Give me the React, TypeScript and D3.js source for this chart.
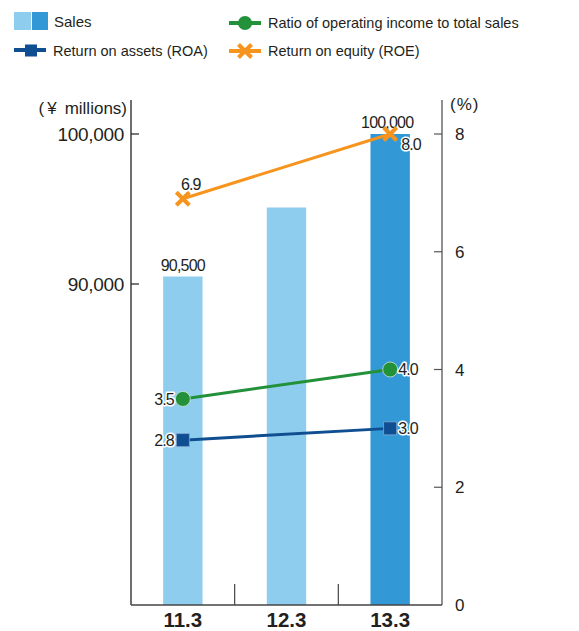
import React from "react";
import * as d3 from "d3";

const categories = ["11.3", "12.3", "13.3"];
const salesValues = [90500, 95100, 100000];
const salesLabels = ["90,500", "", "100,000"];
const roeValues: (number | null)[] = [6.9, null, 8.0];
const opRatioValues: (number | null)[] = [3.5, null, 4.0];
const roaValues: (number | null)[] = [2.8, null, 3.0];
const leftTicks = [90000, 100000];
const rightTicks = [0, 2, 4, 6, 8];

const FONT = "'Liberation Sans', Arial, Helvetica, sans-serif";
const LIGHT = "#8fcdef";
const DARK = "#3399d6";
const GREEN = "#23913a";
const NAVY = "#0f4f91";
const ORANGE = "#f7941d";
const TEXT = "#231f20";

export default function App() {
  const W = 579, H = 631;
  const left = 131, right = 442, top = 100, bottom = 605;
  const x = d3.scaleBand<string>().domain(categories).range([left, right]).padding(0);
  const yL = d3.scaleLinear().domain([90000, 100000]).range([284, 134]);
  const yR = d3.scaleLinear().domain([0, 8]).range([bottom, 134]);
  const bw = x.bandwidth() * 0.38;
  const cx = (c: string) => (x(c) as number) + x.bandwidth() / 2;

  const lineGen = d3
    .line<[number, number]>()
    .x((d) => d[0])
    .y((d) => d[1]);
  const pts = (vals: (number | null)[]) =>
    vals
      .map((v, i) => (v == null ? null : ([cx(categories[i]), yR(v)] as [number, number])))
      .filter((p): p is [number, number] => p != null);

  const halo = { paintOrder: "stroke" as const, stroke: "#fff", strokeWidth: 3, strokeLinejoin: "round" as const };

  const cross = (px: number, py: number, s: number, key?: string) => (
    <g key={key}>
      <line x1={px - s} y1={py - s} x2={px + s} y2={py + s} stroke={ORANGE} strokeWidth={4} />
      <line x1={px - s} y1={py + s} x2={px + s} y2={py - s} stroke={ORANGE} strokeWidth={4} />
    </g>
  );

  return (
    <svg width={W} height={H} style={{ display: "block", position: "absolute", left: 0, top: 0 }} fontFamily={FONT}>
      {/* Legend */}
      <rect x={14} y={12} width={17} height={18} fill={LIGHT} />
      <rect x={32} y={12} width={16} height={18} fill={DARK} />
      <text x={54} y={27} fontSize={15} fill={TEXT}>Sales</text>
      <line x1={14} x2={46} y1={50} y2={50} stroke={NAVY} strokeWidth={4} />
      <rect x={25} y={44.5} width={12} height={12} fill={NAVY} />
      <text x={53} y={56} fontSize={14.5} fill={TEXT}>Return on assets (ROA)</text>
      <line x1={229} x2={261} y1={23} y2={23} stroke={GREEN} strokeWidth={4} />
      <circle cx={245} cy={23} r={7} fill={GREEN} />
      <text x={268} y={28} fontSize={14.5} fill={TEXT}>Ratio of operating income to total sales</text>
      <line x1={229} x2={261} y1={51} y2={51} stroke={ORANGE} strokeWidth={4} />
      {cross(245, 51, 6.5)}
      <text x={268} y={56} fontSize={14.5} fill={TEXT}>Return on equity (ROE)</text>

      {/* Bars */}
      {categories.map((c, i) => (
        <rect
          key={c}
          x={cx(c) - bw / 2}
          y={yL(salesValues[i])}
          width={bw}
          height={bottom - yL(salesValues[i])}
          fill={i === categories.length - 1 ? DARK : LIGHT}
        />
      ))}

      {/* Axes */}
      <line x1={left} x2={left} y1={top} y2={bottom} stroke="#231f20" strokeWidth={1.3} />
      <line x1={right} x2={right} y1={top} y2={bottom} stroke="#555" strokeWidth={1.3} />
      <line x1={left} x2={right} y1={bottom} y2={bottom} stroke="#444" strokeWidth={1.3} />
      {leftTicks.map((t) => (
        <g key={t}>
          <line x1={left} x2={left + 8} y1={yL(t)} y2={yL(t)} stroke="#231f20" strokeWidth={1.2} />
          <text x={124} y={yL(t)} dy="0.36em" textAnchor="end" fontSize={19} fill={TEXT} letterSpacing={-0.3}>
            {d3.format(",")(t)}
          </text>
        </g>
      ))}
      {rightTicks.map((t) => (
        <g key={t}>
          {t > 0 && <line x1={right - 8} x2={right} y1={yR(t)} y2={yR(t)} stroke="#555" strokeWidth={1.2} />}
          <text x={455} y={yR(t)} dy="0.36em" fontSize={17} fill={TEXT}>
            {t}
          </text>
        </g>
      ))}
      {categories.slice(1).map((c) => (
        <line key={c} x1={x(c)} x2={x(c)} y1={bottom - 21} y2={bottom} stroke="#444" strokeWidth={1.2} />
      ))}
      {categories.map((c) => (
        <text key={c} x={cx(c)} y={627} textAnchor="middle" fontSize={20.5} fontWeight="bold" fill={TEXT}>
          {c}
        </text>
      ))}
      <text x={127} y={114} textAnchor="end" fontSize={17} fill={TEXT}>
        <tspan>(</tspan>
        <tspan dx={3}>¥</tspan>
        <tspan dx={8}>millions)</tspan>
      </text>
      <text x={450} y={110} fontSize={17} fill={TEXT}>
        <tspan>(</tspan>
        <tspan dx={1}>%</tspan>
        <tspan dx={1}>)</tspan>
      </text>

      {/* Sales labels */}
      {categories.map((c, i) =>
        salesLabels[i] ? (
          <text key={c} x={cx(c) + (i === 2 ? -3 : 0)} y={yL(salesValues[i]) - 6} textAnchor="middle" fontSize={16} fill={TEXT} letterSpacing={-0.8} style={halo}>
            {salesLabels[i]}
          </text>
        ) : null
      )}

      {/* Lines */}
      <path d={lineGen(pts(roaValues)) || ""} fill="none" stroke={NAVY} strokeWidth={3} />
      <path d={lineGen(pts(opRatioValues)) || ""} fill="none" stroke={GREEN} strokeWidth={3} />
      <path d={lineGen(pts(roeValues)) || ""} fill="none" stroke={ORANGE} strokeWidth={3} />

      {pts(roaValues).map((p, i) => (
        <rect key={i} x={p[0] - 6.5} y={p[1] - 6.5} width={13} height={13} fill={NAVY} stroke="#7fa6cf" strokeWidth={0.8} />
      ))}
      {pts(opRatioValues).map((p, i) => (
        <circle key={i} cx={p[0]} cy={p[1]} r={7.5} fill={GREEN} stroke="#cfe6d3" strokeWidth={0.8} />
      ))}
      {pts(roeValues).map((p, i) => cross(p[0], p[1], 6.5, "x" + i))}

      {/* Line value labels */}
      {(() => {
        const a = pts(roeValues), g = pts(opRatioValues), r = pts(roaValues);
        const f = d3.format(".1f");
        return (
          <g fontSize={16} fill={TEXT} letterSpacing={-0.9} style={halo}>
            <text x={a[0][0] + 8} y={a[0][1] - 9} textAnchor="middle">{f(roeValues[0] as number)}</text>
            <text x={a[1][0] + 11} y={a[1][1] + 16}>{f(roeValues[2] as number)}</text>
            <text x={g[0][0] - 9} y={g[0][1]} dy="0.36em" textAnchor="end">{f(opRatioValues[0] as number)}</text>
            <text x={g[1][0] + 8} y={g[1][1]} dy="0.36em">{f(opRatioValues[2] as number)}</text>
            <text x={r[0][0] - 9} y={r[0][1]} dy="0.36em" textAnchor="end">{f(roaValues[0] as number)}</text>
            <text x={r[1][0] + 8} y={r[1][1]} dy="0.36em">{f(roaValues[2] as number)}</text>
          </g>
        );
      })()}
    </svg>
  );
}
